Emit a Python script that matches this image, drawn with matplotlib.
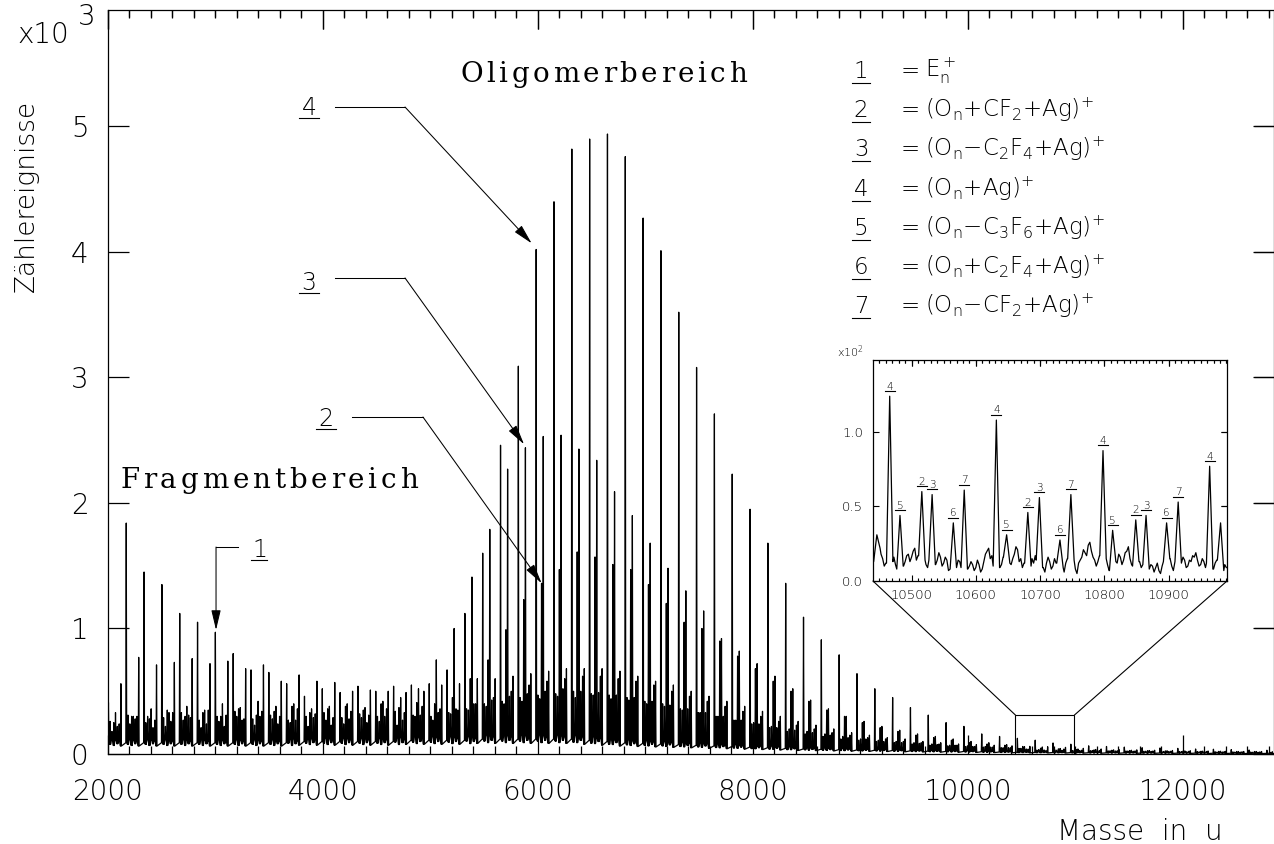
import numpy as np
import matplotlib
matplotlib.use("Agg")
import matplotlib.pyplot as plt
from matplotlib.lines import Line2D
from matplotlib.patches import Rectangle, ConnectionPatch
from matplotlib.transforms import IdentityTransform, blended_transform_factory

plt.rcParams["font.family"] = ["DejaVu Sans"]
plt.rcParams["font.weight"] = "light"
plt.rcParams["mathtext.default"] = "regular"

W, H = 1274, 844

# Massenspektrum, Zaehlereignisse in 10^3
repeat_unit = 165.8      # Abstand der Oligomerlinien (u)
first_line = 2004        # Lage der ersten Hauptlinie (u)

# Hauptlinie je Gruppe: E_n+ im Fragmentbereich, (O_n+Ag)+ im Oligomerbereich
h_main = [0.41, 1.84, 1.45, 1.35, 1.12, 1.05, 0.97, 0.80, 0.67, 0.65, 0.56, 0.46,
          0.52, 0.49, 0.54, 0.50, 0.54, 0.55, 0.56, 0.67, 1.12, 1.60, 2.46, 3.09,
          4.02, 4.40, 4.82, 4.90, 4.94, 4.76, 4.27, 4.01, 3.52, 3.08, 2.71, 2.23,
          1.95, 1.68, 1.36, 1.09, 0.91, 0.79, 0.64, 0.52, 0.45, 0.37, 0.31, 0.25,
          0.22, 0.16, 0.14, 0.125, 0.11, 0.088, 0.078, 0.065, 0.06, 0.055, 0.05,
          0.048, 0.045, 0.04, 0.038, 0.035, 0.032, 0.03]
# (O_n+CF2+Ag)+, +50 u
h_type2 = [0.25, 0.30, 0.28, 0.35, 0.30, 0.33, 0.30, 0.36, 0.31, 0.34, 0.38, 0.33,
           0.36, 0.38, 0.35, 0.40, 0.37, 0.41, 0.40, 0.45, 0.60, 0.75, 0.99, 1.23,
           1.36, 1.47, 1.61, 1.57, 1.51, 1.47, 1.35, 1.20, 1.05, 1.00, 0.90, 0.78,
           0.68, 0.58, 0.50, 0.42, 0.35, 0.30, 0.25, 0.21, 0.18, 0.15, 0.13, 0.11,
           0.09, 0.08, 0.07, 0.060, 0.046, 0.041, 0.036, 0.033, 0.030, 0.028, 0.026,
           0.025, 0.024, 0.022, 0.021, 0.020, 0.020, 0.018]
# (O_n-C2F4+Ag)+, -100 u
h_type3 = [0.20, 0.33, 0.30, 0.36, 0.33, 0.38, 0.35, 0.40, 0.37, 0.42, 0.38, 0.40,
           0.36, 0.38, 0.40, 0.37, 0.42, 0.45, 0.52, 0.75, 1.00, 1.41, 1.79, 2.27,
           2.44, 2.53, 2.54, 2.43, 2.34, 2.09, 1.90, 1.68, 1.48, 1.30, 1.14, 0.92,
           0.82, 0.72, 0.62, 0.52, 0.43, 0.36, 0.30, 0.26, 0.22, 0.19, 0.16, 0.14,
           0.12, 0.10, 0.09, 0.075, 0.058, 0.056, 0.044, 0.040, 0.036, 0.033, 0.030,
           0.028, 0.026, 0.025, 0.023, 0.022, 0.020, 0.020]
# (O_n-C3F6+Ag)+, -150 u
h_type5 = [0.20, 0.26, 0.31, 0.25, 0.29, 0.33, 0.27, 0.30, 0.34, 0.28, 0.31, 0.27,
           0.30, 0.33, 0.29, 0.32, 0.30, 0.34, 0.31, 0.30, 0.33, 0.36, 0.40, 0.42,
           0.45, 0.47, 0.48, 0.50, 0.48, 0.47, 0.45, 0.42, 0.40, 0.36, 0.33, 0.30,
           0.27, 0.24, 0.21, 0.18, 0.16, 0.14, 0.12, 0.11, 0.10, 0.09, 0.08, 0.07,
           0.065, 0.06, 0.055, 0.05, 0.044, 0.031, 0.034, 0.028, 0.026, 0.025, 0.024,
           0.022, 0.021, 0.02, 0.019, 0.018, 0.017, 0.016]
# (O_n+C2F4+Ag)+, +100 u
h_type6 = [0.24, 0.30, 0.27, 0.33, 0.29, 0.35, 0.31, 0.28, 0.34, 0.30, 0.36, 0.32,
           0.29, 0.34, 0.31, 0.36, 0.33, 0.38, 0.36, 0.35, 0.40, 0.45, 0.50, 0.55,
           0.58, 0.60, 0.62, 0.62, 0.60, 0.58, 0.55, 0.50, 0.46, 0.42, 0.38, 0.34,
           0.30, 0.26, 0.23, 0.20, 0.17, 0.15, 0.13, 0.12, 0.10, 0.09, 0.08, 0.07,
           0.06, 0.055, 0.05, 0.039, 0.027, 0.039, 0.03, 0.028, 0.026, 0.025, 0.024,
           0.022, 0.021, 0.02, 0.019, 0.018, 0.017, 0.016]
# (O_n-CF2+Ag)+, -50 u
h_type7 = [0.30, 0.56, 0.77, 0.71, 0.73, 0.76, 0.72, 0.74, 0.68, 0.71, 0.58, 0.63,
           0.58, 0.57, 0.50, 0.51, 0.50, 0.49, 0.50, 0.55, 0.56, 0.60, 0.60, 0.62,
           0.64, 0.66, 0.68, 0.68, 0.68, 0.66, 0.62, 0.58, 0.55, 0.50, 0.46, 0.42,
           0.38, 0.34, 0.30, 0.26, 0.23, 0.20, 0.17, 0.15, 0.13, 0.12, 0.10, 0.09,
           0.08, 0.075, 0.07, 0.065, 0.061, 0.058, 0.053, 0.045, 0.04, 0.036, 0.033,
           0.03, 0.028, 0.026, 0.024, 0.022, 0.02, 0.02]
# kleinere Linien dazwischen, +33 u und +83 u
h_minor_a = [0.18, 0.24, 0.30, 0.22, 0.27, 0.21, 0.26, 0.30, 0.23, 0.28, 0.25, 0.22,
             0.27, 0.24, 0.29, 0.26, 0.23, 0.30, 0.27, 0.32, 0.35, 0.38, 0.40, 0.42,
             0.44, 0.46, 0.45, 0.47, 0.44, 0.43, 0.40, 0.38, 0.35, 0.33, 0.30, 0.27,
             0.25, 0.22, 0.20, 0.18, 0.16, 0.14, 0.12, 0.11, 0.10, 0.09, 0.08, 0.07,
             0.065, 0.06, 0.05, 0.045, 0.035, 0.03, 0.03, 0.028, 0.026, 0.024, 0.022,
             0.02, 0.019, 0.018, 0.016, 0.015, 0.014, 0.013]
h_minor_b = [0.22, 0.28, 0.21, 0.26, 0.31, 0.24, 0.22, 0.27, 0.30, 0.24, 0.27, 0.29,
             0.23, 0.28, 0.25, 0.30, 0.27, 0.31, 0.33, 0.36, 0.40, 0.43, 0.46, 0.48,
             0.50, 0.52, 0.50, 0.49, 0.47, 0.45, 0.42, 0.39, 0.36, 0.33, 0.30, 0.27,
             0.24, 0.21, 0.19, 0.17, 0.15, 0.13, 0.12, 0.10, 0.09, 0.085, 0.075, 0.07,
             0.06, 0.055, 0.05, 0.04, 0.032, 0.03, 0.028, 0.026, 0.024, 0.022, 0.021,
             0.02, 0.018, 0.017, 0.016, 0.015, 0.014, 0.013]
# Untergrund je Gruppe
h_floor = [0.09, 0.09, 0.09, 0.09, 0.09, 0.09, 0.09, 0.09, 0.09, 0.09, 0.09, 0.10,
           0.10, 0.10, 0.10, 0.10, 0.10, 0.11, 0.11, 0.11, 0.11, 0.12, 0.12, 0.12,
           0.12, 0.12, 0.12, 0.11, 0.10, 0.09, 0.085, 0.08, 0.075, 0.07, 0.065, 0.06,
           0.055, 0.05, 0.045, 0.04, 0.038, 0.035, 0.032, 0.03, 0.028, 0.025, 0.023,
           0.021, 0.02, 0.018, 0.016, 0.014, 0.013, 0.012, 0.011, 0.01, 0.009, 0.009,
           0.008, 0.008, 0.007, 0.007, 0.006, 0.006, 0.005, 0.005]
line_offsets = [0, 50, -100, -150, 100, -50, 33, 83]
foot_factor = [1.0, 0.75, 1.3, 0.85, 1.2, 0.7, 1.35, 0.9]

# Ausschnitt 10440-10990 u, Zaehlereignisse in 10^2
inset_pos = [10446, 10466, 10482, 10516, 10532, 10565, 10582, 10632, 10648, 10681,
             10699, 10731, 10748, 10798, 10813, 10849, 10865, 10897, 10915, 10964,
             10981]
inset_height = [0.31, 1.24, 0.44, 0.60, 0.58, 0.39, 0.61, 1.08, 0.31, 0.46, 0.56,
                0.275, 0.58, 0.875, 0.34, 0.41, 0.44, 0.39, 0.53, 0.77, 0.39]
inset_label = ["", "4", "5", "2", "3", "6", "7", "4", "5", "2", "3", "6", "7",
               "4", "5", "2", "3", "6", "7", "4", ""]
inset_start, inset_step = 10440, 2.5
inset_floor = [0.13, 0.17, 0.20, 0.16, 0.22, 0.18, 0.15, 0.10, 0.12, 0.16,
               0.12, 0.09, 0.13, 0.16, 0.11, 0.08, 0.14, 0.18, 0.15, 0.10,
               0.13, 0.17, 0.18, 0.13, 0.16, 0.20, 0.22, 0.14, 0.17, 0.10,
               0.12, 0.17, 0.14, 0.11, 0.09, 0.14, 0.13, 0.18, 0.15, 0.11,
               0.14, 0.19, 0.16, 0.10, 0.12, 0.16, 0.14, 0.07, 0.08, 0.13,
               0.12, 0.06, 0.09, 0.14, 0.13, 0.09, 0.12, 0.17, 0.15, 0.08,
               0.10, 0.13, 0.11, 0.07, 0.09, 0.14, 0.11, 0.06, 0.08, 0.13,
               0.18, 0.20, 0.22, 0.15, 0.17, 0.10, 0.12, 0.15, 0.13, 0.09,
               0.11, 0.16, 0.14, 0.19, 0.16, 0.12, 0.11, 0.15, 0.18, 0.23,
               0.21, 0.13, 0.15, 0.09, 0.12, 0.17, 0.14, 0.08, 0.10, 0.15,
               0.12, 0.17, 0.14, 0.08, 0.11, 0.13, 0.09, 0.06, 0.12, 0.16,
               0.13, 0.08, 0.10, 0.15, 0.12, 0.07, 0.13, 0.16, 0.09, 0.06,
               0.12, 0.15, 0.10, 0.07, 0.11, 0.14, 0.08, 0.05, 0.12, 0.14,
               0.16, 0.21, 0.19, 0.17, 0.24, 0.26, 0.20, 0.16, 0.14, 0.10,
               0.13, 0.17, 0.15, 0.10, 0.12, 0.15, 0.11, 0.07, 0.13, 0.16,
               0.17, 0.13, 0.12, 0.18, 0.16, 0.11, 0.14, 0.19, 0.20, 0.23,
               0.15, 0.11, 0.10, 0.07, 0.12, 0.15, 0.13, 0.09, 0.11, 0.14,
               0.10, 0.06, 0.08, 0.11, 0.10, 0.06, 0.09, 0.12, 0.07, 0.05,
               0.10, 0.13, 0.09, 0.06, 0.12, 0.15, 0.10, 0.07, 0.13, 0.11,
               0.10, 0.13, 0.12, 0.16, 0.14, 0.09, 0.10, 0.14, 0.13, 0.17,
               0.16, 0.19, 0.14, 0.10, 0.11, 0.15, 0.13, 0.09, 0.12, 0.14,
               0.10, 0.06, 0.08, 0.12, 0.14, 0.11, 0.10, 0.06, 0.07, 0.11,
               0.09]

legend_keys = ["1", "2", "3", "4", "5", "6", "7"]
legend_text = ["E$_n^+$", "(O$_n$+CF$_2$+Ag$)^{+}$", "(O$_n$\u2212C$_2$F$_4$+Ag$)^{+}$",
               "(O$_n$+Ag$)^{+}$", "(O$_n$\u2212C$_3$F$_6$+Ag$)^{+}$",
               "(O$_n$+C$_2$F$_4$+Ag$)^{+}$", "(O$_n$\u2212CF$_2$+Ag$)^{+}$"]

series = [h_main, h_type2, h_type3, h_type5, h_type6, h_type7, h_minor_a, h_minor_b]
for s in series:
    assert len(s) == len(h_floor), len(s)
assert len(inset_floor) == 221, len(inset_floor)

fig = plt.figure(figsize=(W / 100, H / 100), dpi=100)
ident = IdentityTransform()


def underline(x0, x1, y, lw=0.8):
    fig.add_artist(Line2D([x0, x1], [y, y], transform=ident, color="black", lw=lw))


def label_u(axis, x, y, s, size, uw, gap):
    axis.text(x, y, s, fontsize=size, ha="center", va="baseline")
    px, py = axis.transData.transform((x, y))
    underline(px - uw / 2, px + uw / 2, py - gap)


def spaced(x0, y0, s, width, size):
    rend = fig.canvas.get_renderer()
    arts = [fig.text(0, H - y0, ch, transform=ident, fontsize=size,
                     family="DejaVu Serif", weight="normal", va="baseline",
                     ha="left") for ch in s]
    ws = [a.get_window_extent(rend).width for a in arts]
    gap = (width - sum(ws)) / (len(s) - 1)
    x = x0
    for a, w in zip(arts, ws):
        a.set_x(x)
        x += w + gap


def top_ticks(axis, where, length_px, lw):
    # Striche an der oberen Achse, nach innen
    frac = length_px / (axis.get_position().height * H)
    tr = blended_transform_factory(axis.transData, axis.transAxes)
    axis.vlines(where, 1 - frac, 1, transform=tr, color="black", lw=lw,
                clip_on=False)


def right_ticks(axis, where, length_px, lw):
    frac = length_px / (axis.get_position().width * W)
    tr = blended_transform_factory(axis.transAxes, axis.transData)
    axis.hlines(where, 1 - frac, 1, transform=tr, color="black", lw=lw,
                clip_on=False)


# Hauptdiagramm
ax = fig.add_axes([108 / W, (H - 754) / H, (W - 108) / W, (754 - 9.5) / H])
centres = first_line + repeat_unit * np.arange(len(h_main))
peaks = []
for off, ff, hs in zip(line_offsets, foot_factor, series):
    for c, h, f in zip(centres, hs, h_floor):
        peaks.append((c + off, h, f * ff))
peaks.sort()
half = 4.0
xs, ys = [1990], [h_floor[0]]
for p, h, f in peaks:
    xs += [p - half, p, p + half]
    ys += [f, h, f]
xs.append(12900)
ys.append(h_floor[-1])
ax.plot(xs, ys, color="black", lw=0.9)

major_x = np.arange(2000, 12001, 2000)
minor_x = np.arange(2200, 12847, 200)
ax.set_xlim(2000, 12847)
ax.set_ylim(0, 5.932)
ax.set_xticks(major_x)
ax.set_xticks(minor_x, minor=True)
ax.set_yticks(range(6))
ax.tick_params(direction="in", which="both", width=0.9, labelsize=20,
               top=True, right=True)
ax.tick_params(axis="x", which="major", length=13.5, pad=17)
ax.tick_params(axis="x", which="minor", length=6)
ax.tick_params(axis="y", which="major", length=15, pad=14)
for sp in ax.spines.values():
    sp.set_linewidth(0.9)
top_ticks(ax, major_x, 19, 0.9)
top_ticks(ax, [m for m in minor_x if m % 2000], 7.5, 0.9)
right_ticks(ax, range(1, 6), 20, 0.9)

# Pfeile
arrows = [
    ("4", (3870, 5.092), [(4112, 5.155), (4763, 5.155)], (5941, 4.069), 20),
    ("3", (3870, 3.697), [(4112, 3.793), (4763, 3.793)], (5870, 2.468), 20),
    ("2", (4028, 2.614), [(4270, 2.685), (4930, 2.685)], (6034, 1.360), 20),
    ("1", (3409, 1.570), [(3209, 1.649), (3005, 1.649)], (3005, 0.988), 16),
]
for lab, lpos, path, tip, uw in arrows:
    label_u(ax, lpos[0], lpos[1], lab, 17, uw, 3)
    ax.plot([q[0] for q in path], [q[1] for q in path], color="black", lw=0.75)
    ax.annotate("", xy=tip, xytext=path[-1],
                arrowprops=dict(arrowstyle="-|>,head_length=1.22,head_width=0.29",
                                mutation_scale=10, color="black", lw=0.75,
                                shrinkA=0, shrinkB=0))

# Ausschnittsrahmen
box_x0, box_x1, box_top = 10442, 10990, 0.31
ax.add_patch(Rectangle((box_x0, 0), box_x1 - box_x0, box_top, fill=False,
                       lw=0.8, color="black"))

# Einsatz
axin = fig.add_axes([873 / W, (H - 581) / H, 354 / W, 221 / H])
axin.set_facecolor("white")
grid = inset_start + inset_step * np.arange(len(inset_floor))
hw = 5.0
pts = [(g, v) for g, v in zip(grid, inset_floor)
       if min(abs(g - p) for p in inset_pos) > hw]
last = len(grid) - 1
for p, h in zip(inset_pos, inset_height):
    fl = inset_floor[max(int(round((p - hw - inset_start) / inset_step)), 0)]
    fr = inset_floor[min(int(round((p + hw - inset_start) / inset_step)), last)]
    pts += [(p - hw, fl), (p, h), (p + hw, fr)]
pts.sort()
axin.plot([q[0] for q in pts], [q[1] for q in pts], color="black", lw=0.9)
in_major = np.arange(10500, 10901, 100)
in_minor = np.arange(10450, 10991, 10)
axin.set_xlim(10440, 10991)
axin.set_ylim(0, 1.483)
axin.set_xticks(in_major)
axin.set_xticks(in_minor, minor=True)
axin.set_yticks([0, 0.5, 1.0])
axin.set_yticklabels(["0.0", "0.5", "1.0"])
axin.tick_params(direction="in", which="both", width=0.8, labelsize=9.5,
                 top=True, right=True)
axin.tick_params(which="major", length=4.5)
axin.tick_params(which="minor", length=2.5)
axin.tick_params(axis="x", pad=6)
axin.tick_params(axis="y", pad=7)
for sp in axin.spines.values():
    sp.set_linewidth(0.9)
top_ticks(axin, in_minor, 3.5, 0.8)
top_ticks(axin, in_major, 6, 0.8)
right_ticks(axin, [0.5, 1.0], 6, 0.8)
for p, h, lab in zip(inset_pos, inset_height, inset_label):
    if lab:
        label_u(axin, p, h + 0.045, lab, 7.5, 10, 1.5)
fig.text(837, H - 357, r"x10$^2$", transform=ident, fontsize=8, va="baseline")

for xa, xb in [(box_x0, 10440), (box_x1, 10991)]:
    fig.add_artist(ConnectionPatch(xyA=(xa, box_top), coordsA=ax.transData,
                                   xyB=(xb, 0), coordsB=axin.transData,
                                   color="black", lw=0.8))

# Legende
for i, (k, t) in enumerate(zip(legend_keys, legend_text)):
    yb = 78 + i * 39.2
    fig.text(861, H - yb, k, transform=ident, fontsize=16.5, ha="center",
             va="baseline")
    underline(852, 870, H - yb - 5)
    fig.text(901, H - yb, "=", transform=ident, fontsize=16.5, va="baseline")
    fig.text(925, H - yb, t, transform=ident, fontsize=16.5, va="baseline")

# Beschriftungen
fig.text(17, H - 43, "x10", transform=ident, fontsize=20, va="baseline")
fig.text(78, H - 25, "3", transform=ident, fontsize=20, va="baseline")
fig.text(26, H - 196, "Zählereignisse", transform=ident, fontsize=19,
         rotation=90, ha="center", va="center")
fig.text(1223, H - 840, "Masse  in  u", transform=ident, fontsize=20,
         ha="right", va="baseline")
spaced(120, 488, "Fragmentbereich", 298, 20)
spaced(460, 82, "Oligomerbereich", 287, 20)

fig.savefig("out.png", dpi=100)
